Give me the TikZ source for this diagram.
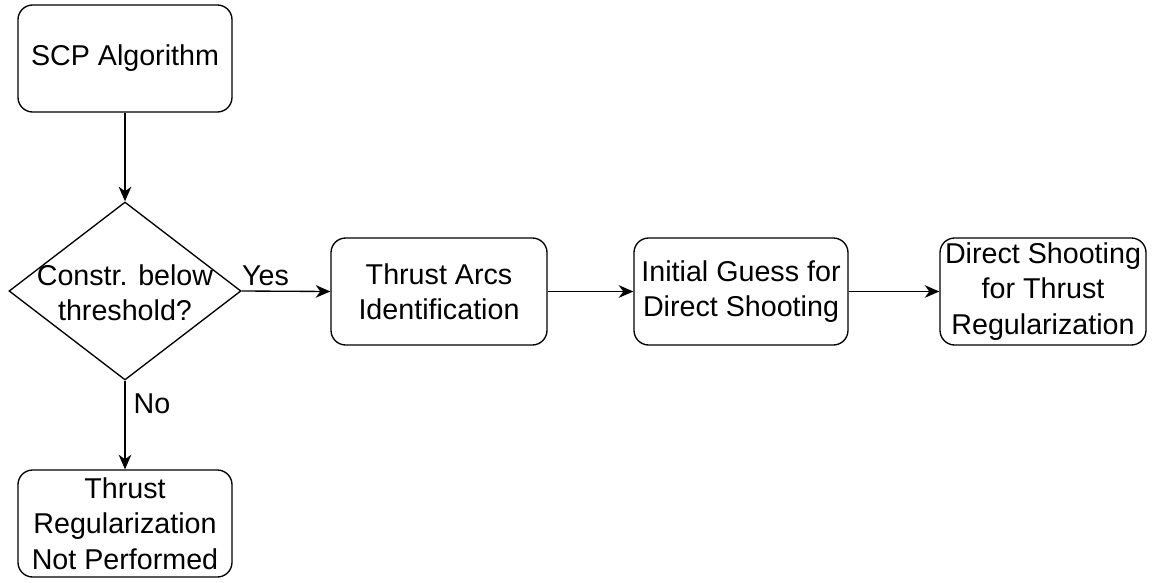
\documentclass[tikz,border=0pt]{standalone}
\usepackage{fontspec}
\setmainfont{Liberation Sans}
\usetikzlibrary{shapes.geometric,arrows.meta}
\begin{document}
\begin{tikzpicture}[x=0.75pt,y=-0.75pt,
  txt/.style={font=\fontsize{21.5}{26.5}\selectfont,align=center,inner sep=0pt},
  box/.style={txt,draw,line width=1pt,rounded corners=11pt,minimum height=80.25pt},
  decision/.style={diamond,draw,line width=1pt,inner sep=0pt,minimum width=174pt,minimum height=133.5pt},
  arr/.style={line width=1pt,-{Stealth[length=11pt,width=9.5pt,inset=3.5pt]}},
  lbl/.style={txt}
]
\useasboundingbox (0,0) rectangle (1156,582);
\node[box,minimum width=160.5pt] (scp) at (125,58.5) {SCP Algorithm};
\node[decision] (dec) at (125,291) {};
\node[txt] (dectxt) at (125,293) {Constr. below\\threshold?};
\node[box,minimum width=162pt] (arcs) at (439,291.5) {Thrust Arcs\\Identification};
\node[box,minimum width=160.5pt] (guess) at (741,291.5) {Initial Guess for\\Direct Shooting};
\node[box,minimum width=154.5pt] (ds) at (1043,291.5) {Direct Shooting\\for Thrust\\Regularization};
\node[box,minimum width=160.5pt] (nrp) at (125,523.5) {Thrust\\Regularization\\Not Performed};
\draw[arr] (scp) -- (dec);
\draw[arr] (dec.east) -- node[lbl,pos=0.27,above=3.75pt] {Yes} (arcs.west);
\draw[arr] (arcs) -- (guess);
\draw[arr] (guess) -- (ds);
\draw[arr] (dec.south) -- node[lbl,pos=0.26,right=6pt] {No} (nrp.north);
\end{tikzpicture}
\end{document}
